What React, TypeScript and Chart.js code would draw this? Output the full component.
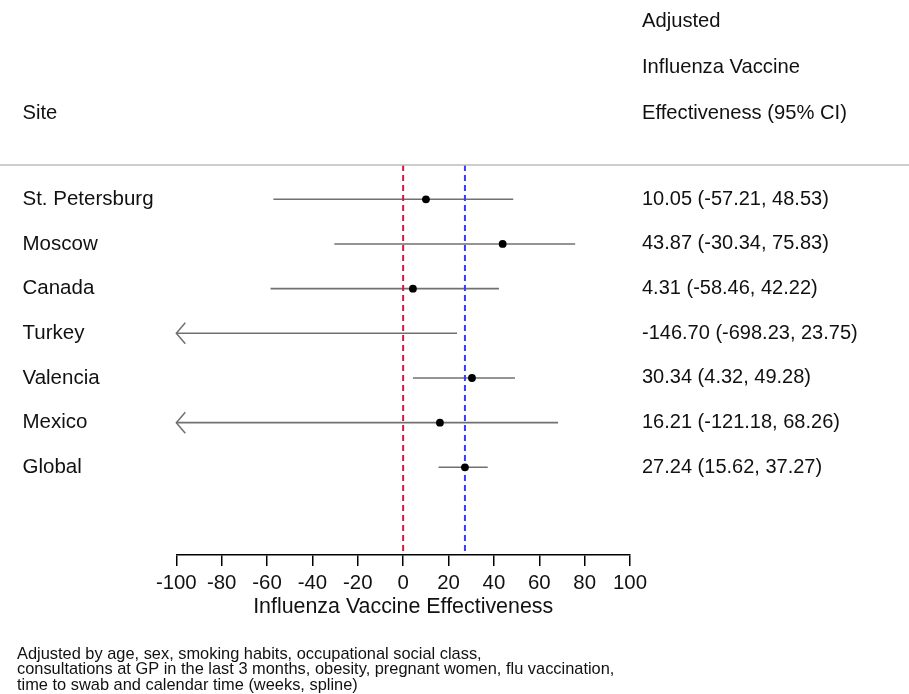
import React, { useEffect, useRef } from 'react';
import { Chart, registerables } from 'chart.js';

Chart.register(...registerables);

// ---- data ----
const sites = ['St. Petersburg', 'Moscow', 'Canada', 'Turkey', 'Valencia', 'Mexico', 'Global'];
const estimates = [10.05, 43.87, 4.31, -146.7, 30.34, 16.21, 27.24];
const lowerCI = [-57.21, -30.34, -58.46, -698.23, 4.32, -121.18, 15.62];
const upperCI = [48.53, 75.83, 42.22, 23.75, 49.28, 68.26, 37.27];
const xTicks = [-100, -80, -60, -40, -20, 0, 20, 40, 60, 80, 100];
const nullEffect = 0;
const pooledEffect = 27.24;
const headerLeft = 'Site';
const headerRight = ['Adjusted', 'Influenza Vaccine', 'Effectiveness (95% CI)'];
const xTitle = 'Influenza Vaccine Effectiveness';
const footnote = [
  'Adjusted by age, sex, smoking habits, occupational social class,',
  'consultations at GP in the last 3 months, obesity, pregnant women, flu vaccination,',
  'time to swab and calendar time (weeks, spline)',
];

const ciLabels = sites.map(
  (_, i) => `${estimates[i].toFixed(2)} (${lowerCI[i].toFixed(2)}, ${upperCI[i].toFixed(2)})`
);

const FONT = '"Liberation Sans", Arial, Helvetica, sans-serif';
const TEXT = '#111111';
const WHISKER = '#707070';
const Y_MIN = -0.768;
const Y_MAX = 7.963;

const decor = {
  id: 'forestDecor',
  afterDatasetsDraw(chart: any) {
    const { ctx, scales } = chart;
    const x = scales.x;
    const y = scales.y;
    ctx.save();
    ctx.strokeStyle = WHISKER;
    ctx.lineWidth = 1.5;
    lowerCI.forEach((lo, i) => {
      if (lo < x.min) {
        const px = x.getPixelForValue(x.min);
        const py = y.getPixelForValue(i);
        ctx.beginPath();
        ctx.moveTo(px + 9, py - 10.5);
        ctx.lineTo(px, py);
        ctx.lineTo(px + 9, py + 10.5);
        ctx.stroke();
      }
    });
    ctx.restore();
  },
  afterDraw(chart: any) {
    const { ctx, chartArea, width } = chart;
    ctx.save();
    // separator
    ctx.strokeStyle = '#bdbdbd';
    ctx.lineWidth = 1.5;
    ctx.beginPath();
    ctx.moveTo(0, chartArea.top);
    ctx.lineTo(width, chartArea.top);
    ctx.stroke();
    // headers
    ctx.fillStyle = TEXT;
    ctx.font = `20.2px ${FONT}`;
    ctx.textAlign = 'left';
    ctx.textBaseline = 'alphabetic';
    const hx = chartArea.right + 12;
    const baselines = [27, 73, 118.5];
    headerRight.forEach((t, i) => ctx.fillText(t, hx, baselines[i]));
    ctx.fillText(headerLeft, 22.5, baselines[2]);
    // footnote
    ctx.font = `16.4px ${FONT}`;
    const fb = [658.5, 674, 689.5];
    footnote.forEach((t, i) => ctx.fillText(t, 17, fb[i]));
    ctx.restore();
  },
};

export default function App() {
  const ref = useRef<HTMLCanvasElement>(null);
  useEffect(() => {
    const canvas = ref.current;
    if (!canvas) return;
    Chart.defaults.font.family = FONT;
    Chart.defaults.color = TEXT;

    const whiskerSets = sites.map((s, i) => ({
      label: s + ' CI',
      data: [
        { x: lowerCI[i], y: i },
        { x: upperCI[i], y: i },
      ],
      showLine: true,
      borderColor: WHISKER,
      borderWidth: 1.6,
      pointRadius: 0,
      order: 3,
    }));

    const refLine = (v: number, color: string, name: string) => ({
      label: name,
      data: [
        { x: v, y: Y_MIN },
        { x: v, y: Y_MAX },
      ],
      showLine: true,
      borderColor: color,
      borderWidth: 2,
      borderDash: [6, 4],
      pointRadius: 0,
      order: 2,
    });

    const chart = new Chart(canvas, {
      type: 'scatter',
      data: {
        datasets: [
          ...whiskerSets,
          refLine(nullEffect, '#d3173e', 'null'),
          refLine(pooledEffect, '#3a3aff', 'pooled'),
          {
            label: 'estimate',
            data: estimates.map((e, i) => ({ x: e, y: i })),
            pointRadius: 3.9,
            pointBackgroundColor: '#000',
            pointBorderWidth: 0,
            order: 1,
          },
        ] as any,
      },
      options: {
        animation: false,
        responsive: false,
        maintainAspectRatio: false,
        layout: { padding: { top: 165, left: 22.5, right: 0, bottom: 0 } },
        plugins: { legend: { display: false }, tooltip: { enabled: false } },
        scales: {
          x: {
            type: 'linear',
            position: 'bottom',
            min: -100,
            max: 100,
            afterBuildTicks: (scale: any) => {
              scale.ticks = xTicks.map((v) => ({ value: v }));
            },
            afterFit: (scale: any) => {
              scale.height = 139;
            },
            grid: {
              display: true,
              drawOnChartArea: false,
              drawTicks: true,
              tickLength: 11,
              color: '#000',
              lineWidth: 1.5,
            },
            border: { display: true, color: '#000', width: 1.5 },
            ticks: { font: { size: 20.4 }, color: TEXT, padding: 5, maxRotation: 0, autoSkip: false },
            title: {
              display: true,
              text: xTitle,
              font: { size: 21.4 },
              color: TEXT,
              padding: { top: 0, bottom: 74 },
            },
          },
          y: {
            type: 'linear',
            position: 'left',
            reverse: true,
            min: Y_MIN,
            max: Y_MAX,
            afterBuildTicks: (scale: any) => {
              scale.ticks = sites.map((_, i) => ({ value: i }));
            },
            afterFit: (scale: any) => {
              scale.width = 176.3 - 22.5;
            },
            grid: { display: false, drawTicks: false },
            border: { display: false },
            ticks: {
              autoSkip: false,
              crossAlign: 'far',
              font: { size: 20.5 },
              color: TEXT,
              callback: (v: any) => sites[v] ?? '',
            },
          },
          y2: {
            type: 'linear',
            position: 'right',
            reverse: true,
            min: Y_MIN,
            max: Y_MAX,
            afterBuildTicks: (scale: any) => {
              scale.ticks = ciLabels.map((_, i) => ({ value: i }));
            },
            afterFit: (scale: any) => {
              scale.width = 909 - 630;
            },
            grid: { display: false, drawTicks: false },
            border: { display: false },
            ticks: {
              autoSkip: false,
              crossAlign: 'near',
              padding: 12,
              font: { size: 20 },
              color: TEXT,
              callback: (v: any) => ciLabels[v] ?? '',
            },
          },
        },
      },
      plugins: [decor],
    } as any);
    return () => chart.destroy();
  }, []);

  return (
    <div style={{ position: 'absolute', left: 0, top: 0, width: 909, height: 694, background: '#fff' }}>
      <canvas ref={ref} width={909} height={694} style={{ display: 'block', width: 909, height: 694 }} />
    </div>
  );
}
